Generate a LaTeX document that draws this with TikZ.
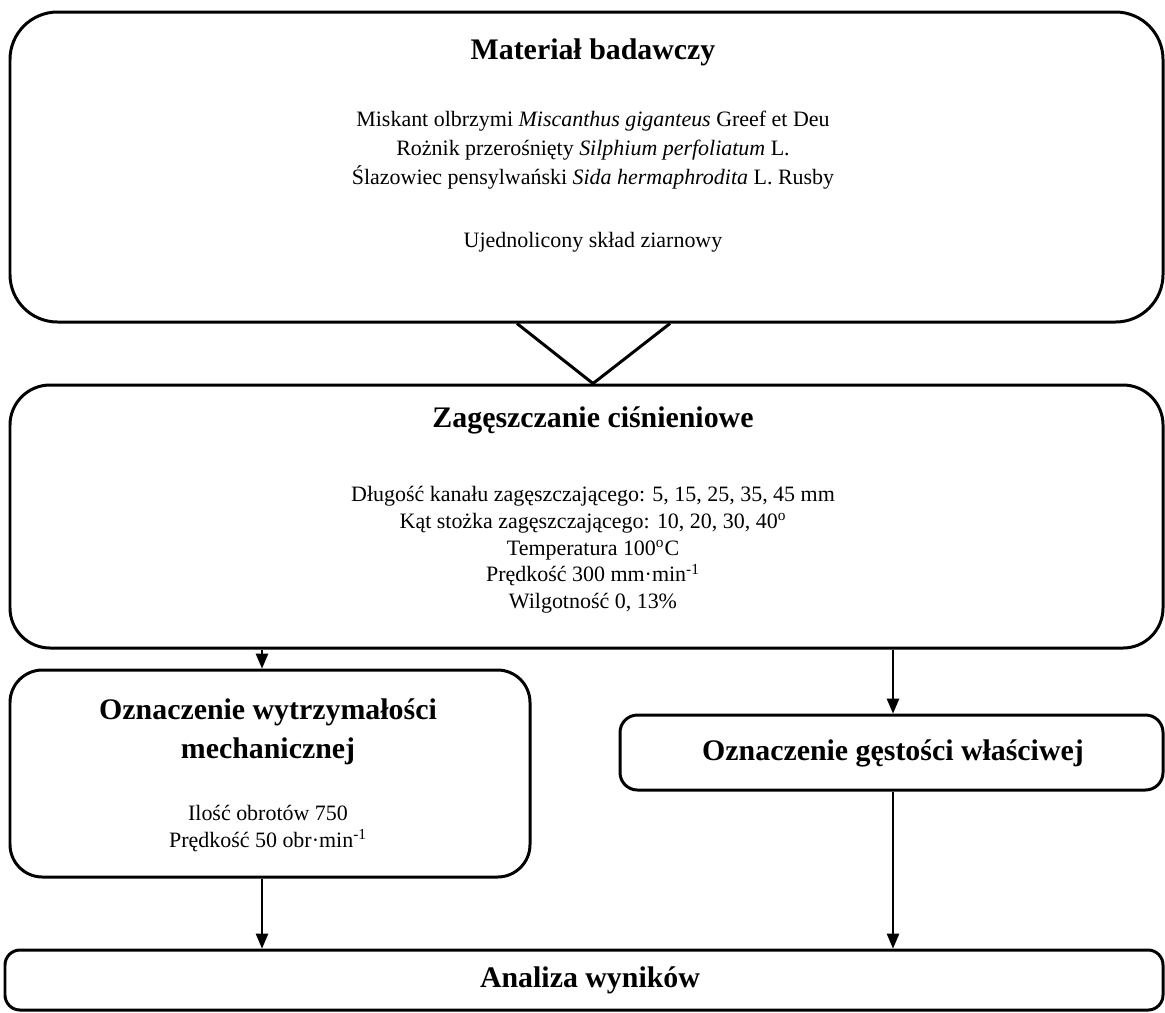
\documentclass[tikz,border=0pt]{standalone}
\usepackage{fontspec}
\setmainfont{Liberation Serif}
\usepackage{xcolor}
\usepackage{tikz}
\usetikzlibrary{arrows.meta,positioning,calc}
\tikzset{
  box/.style={draw=black,fill=white,line width=1.7pt,inner sep=0pt},
  head/.style={font=\fontsize{17}{22}\selectfont\bfseries,align=center,inner sep=0pt},
  lbl/.style={font=\fontsize{12.5}{16.7}\selectfont,align=center,inner sep=0pt},
  arr/.style={-{Triangle[length=3mm,width=2.5mm]},line width=0.8pt},
}

\begin{document}
\begin{tikzpicture}[x=0.02cm,y=-0.02cm]
\useasboundingbox (0,0) rectangle (1165,1012);
\node[box,rounded corners=0.95cm,minimum width=1153*0.02cm,minimum height=310*0.02cm] (mat) at (586.5,167) {};
\node[head] (matT) at (593,52) {Materiał badawczy};
\node[lbl] (matB) at (593,150) {Miskant olbrzymi \textit{Miscanthus giganteus} Greef et Deu\\ Rożnik przerośnięty \textit{Silphium perfoliatum} L.\\ Ślazowiec pensylwański \textit{Sida hermaphrodita} L. Rusby};
\node[lbl] (matU) at (593,242) {Ujednolicony skład ziarnowy};
\node[box,rounded corners=0.8cm,minimum width=1153*0.02cm,minimum height=263*0.02cm] (zag) at (586.5,516.5) {};
\node[head] (zagT) at (593,420) {Zagęszczanie ciśnieniowe};
\node[lbl,font=\fontsize{12.5}{15.2}\selectfont] (zagB) at (593,550) {Długość kanału zagęszczającego: 5, 15, 25, 35, 45 mm\\ Kąt stożka zagęszczającego: 10, 20, 30, 40\textsuperscript{o}\\ Temperatura 100\textsuperscript{o}C\\ Prędkość 300 mm·min\textsuperscript{-1}\\ Wilgotność 0, 13\%};
\node[box,rounded corners=0.65cm,minimum width=520*0.02cm,minimum height=207*0.02cm] (wyt) at (270,773.5) {};
\node[head,font=\fontsize{17}{22}\selectfont\bfseries] (wytT) at (268,732) {Oznaczenie wytrzymałości\\ mechanicznej};
\node[lbl,font=\fontsize{12.5}{15.3}\selectfont] (wytB) at (268,828.5) {Ilość obrotów 750\\ Prędkość 50 obr·min\textsuperscript{-1}};
\node[box,rounded corners=0.35cm,minimum width=543*0.02cm,minimum height=75*0.02cm] (ges) at (891.5,752.5) {};
\node[head] (gesT) at (893,753) {Oznaczenie gęstości właściwej};
\node[box,rounded corners=0.3cm,minimum width=1158*0.02cm,minimum height=60*0.02cm] (ana) at (584,980) {};
\node[head] (anaT) at (590,980) {Analiza wyników};
\coordinate (xl) at (262,0);
\coordinate (xr) at (893,0);
\draw[line width=1.7pt,line join=miter] ($(mat.south)+(-69.5,0)$) -- ($(zag.north)+(6.5,0)$) -- ($(mat.south)+(83.5,0)$);
\draw[arr] (xl |- zag.south) -- (xl |- wyt.north);
\draw[arr] (xr |- zag.south) -- (xr |- ges.north);
\draw[arr,line width=0.7pt] (xl |- wyt.south) -- (xl |- ana.north);
\draw[arr,line width=0.7pt] (xr |- ges.south) -- (xr |- ana.north);
\end{tikzpicture}
\end{document}
